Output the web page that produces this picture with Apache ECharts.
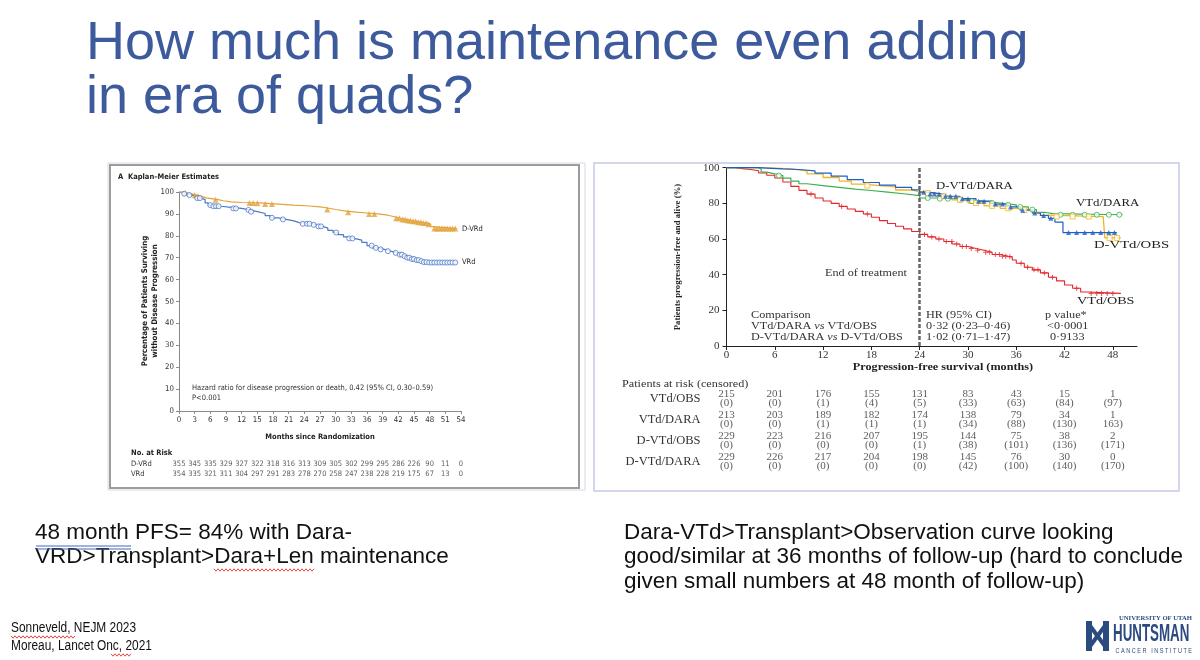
<!DOCTYPE html>
<html><head><meta charset="utf-8">
<script src="https://cdn.jsdelivr.net/npm/echarts@6/dist/echarts.min.js"></script>
<style>html,body{margin:0;padding:0;background:#fff}#c{width:1200px;height:660px}</style>
</head><body><div id="c"></div>
<script>
// ---------- LEFT PANEL DATA (Sonneveld, NEJM 2023) ----------
const leftMonthTicks = [0,3,6,9,12,15,18,21,24,27,30,33,36,39,42,45,48,51,54];
const dvrdCurve = [[0,100],[0.8,99.5],[1.8,99],[2.6,98.5],[3.5,98],[4.3,97.3],[5.2,96.5],[7.5,96],[8.5,95.5],[10,95.2],[12,95],[15.5,94.5],[19,94],[22,93.6],[25,93.2],[27,92.8],[28.2,92],[30,91.3],[32,90.8],[34,90.4],[36,90],[38,89.4],[40,88.6],[41.5,88],[42.5,87.5],[43.5,87],[44.5,86.6],[45.5,86.2],[46.5,85.8],[47.5,85.3],[48.2,84.2],[48.6,83.3],[53.2,83.3]];
const dvrdCensor = [[1.2,99.5],[3,98.5],[3.6,98.2],[7,96.5],[13.5,95],[14.2,95],[15,94.9],[16.5,94.5],[17.8,94.5],[28.4,92],[32.4,90.8],[36.4,90],[37.4,90],[41.6,88],[42.2,88],[42.8,87.5],[43.3,87.5],[43.8,87],[44.3,87],[44.8,86.6],[45.3,86.6],[45.8,86.2],[46.3,86.2],[46.8,85.8],[47.3,85.8],[47.8,85.3],[48.9,83.3],[49.4,83.3],[49.9,83.3],[50.4,83.3],[50.9,83.3],[51.4,83.3],[51.9,83.3],[52.4,83.3],[52.9,83.3]];
const vrdCurve = [[0,100],[0.7,99.2],[1.5,98.6],[2.5,98],[3.3,97.2],[4.3,96.5],[5,95],[5.6,94],[6.5,93.5],[8,93],[10,92.5],[12,91.8],[13.4,91],[15,90.2],[16.5,89.2],[17.5,88.2],[19,87.5],[20.5,86.8],[22,86],[23,85.5],[25.5,85],[26.5,84.3],[27.5,83.5],[28.5,82.5],[29.5,81.5],[30.5,80.5],[31.5,79.5],[32.2,78.8],[33.5,78],[35,77],[36,75.5],[37,74.5],[38,73.8],[39.3,73],[40.5,72.2],[41.8,71.4],[42.8,70.7],[43.6,70],[44.4,69.4],[45.2,68.9],[46,68.4],[46.8,68],[47.4,67.8],[53.2,67.8]];
const vrdCensor = [[1,99.2],[2,98.6],[3.5,97.2],[4,97.2],[6,94],[6.6,93.5],[7.1,93.5],[7.6,93.5],[10.4,92.5],[10.9,92.5],[13.3,91.8],[13.8,91],[17.8,88.2],[19.9,87.5],[23.7,85.5],[24.5,85.5],[25,85.5],[25.8,85],[26.7,84.3],[27.2,84.3],[30.1,81.5],[32.6,78.8],[33.2,78.8],[36.9,75.5],[37.7,74.5],[38.6,73.8],[40,73],[41.5,72.2],[42.3,71.4],[42.7,71.4],[43.2,70.7],[43.7,70],[44.1,70],[44.6,69.4],[45,69.4],[45.5,68.9],[45.9,68.9],[46.4,68.4],[46.9,68],[47.4,68],[47.9,67.8],[48.4,67.8],[48.9,67.8],[49.4,67.8],[49.9,67.8],[50.4,67.8],[50.9,67.8],[51.4,67.8],[51.9,67.8],[52.4,67.8],[52.9,67.8]];
const leftRiskGroups = ['D-VRd','VRd'];
const riskDVRd = [355,345,335,329,327,322,318,316,313,309,305,302,299,295,286,226,90,11,0];
const riskVRd  = [354,335,321,311,304,297,291,283,278,270,258,247,238,228,219,175,67,13,0];

// ---------- RIGHT PANEL DATA (Moreau, Lancet Oncol 2021) ----------
const rightMonthTicks = [0,6,12,18,24,30,36,42,48];
const vtdObsCurve = [[0,100],[1,99.5],[2,99],[3,98.3],[4,97],[5,95.8],[6,94.2],[7,92],[8,89.5],[9,87.3],[10,85.2],[11,83],[12,81.3],[13,80],[14,78.3],[15,76.8],[16,75.5],[17,74],[18,72.2],[19,70.3],[20,68.7],[21,67.2],[22,65.7],[23,64.2],[24,62.6],[25,61.2],[26,60],[27,58.6],[28,57.2],[29,55.8],[30,54.7],[31,53.7],[32,52.6],[33,51.3],[34,50.3],[35,50],[35.5,48.2],[36,46.4],[37,44.2],[38,42.7],[39,41],[40,38.6],[41,36.5],[42,34.2],[43,32.4],[44,30.3],[44.8,29.5],[49,29.5]];
const vtdObsCensor = [[10.5,85.2],[14.3,78.3],[17.5,74],[24.6,62.6],[25.5,61.2],[26.4,60],[27.3,58.6],[28,58.6],[28.6,57.2],[29.3,55.8],[29.8,55.8],[30.4,54.7],[31.2,53.7],[32.2,52.6],[32.7,52.6],[33.4,51.3],[33.9,51.3],[34.3,50.3],[34.7,50.3],[35.2,50],[36.6,46.4],[37.4,44.2],[38.2,42.7],[38.7,42.7],[39.5,41],[40.5,38.6],[43.5,32.4],[45.3,29.5],[46,29.5],[46.6,29.5],[47.3,29.5],[48,29.5]];
const vtdDaraCurve = [[0,100],[3.8,99.5],[4.3,97.5],[5,96.5],[6,95.6],[7,94.2],[8,92.5],[9,91],[10,90],[12,89],[14,88],[16,87.2],[18,86.3],[20,85.4],[22,84.3],[24,83],[26,82.6],[28,82],[30,81.2],[32,80.2],[34,79.2],[36,78],[37.5,76.5],[38.5,75],[39.5,74.2],[40.5,73.6],[49.2,73.6]];
const vtdDaraCensor = [[6.5,95.6],[25,83],[26.5,82.6],[27.5,82.6],[29,82],[30.5,81.2],[33,80.2],[35,79.2],[36.5,78],[38,76.5],[41.5,73.6],[43,73.6],[44.5,73.6],[46,73.6],[47.5,73.6],[48.8,73.6]];
const dvtdObsCurve = [[0,100],[3.8,99.8],[6,99.3],[8,98.2],[10,96.5],[12,94.5],[14,92.5],[15.5,90.8],[17,90],[19,89.2],[21,87.5],[23,86.5],[24,85.8],[26,84],[28,82],[30,80.2],[32,78.6],[34,77.2],[36,76.2],[38,74.6],[39,73.4],[40,72.6],[46.8,72.6],[47,60.6],[49,60.6]];
const dvtdObsCensor = [[17.5,90],[25,85.8],[27,84],[29,82],[31,80.2],[33,78.6],[35,77.2],[37,76.2],[41,72.6],[43,72.6],[45,72.6],[47.6,60.6],[48.5,60.6]];
const dvtdDaraCurve = [[0,100],[4,99.8],[5,99.3],[7,99],[9,98.2],[11,97],[13,95.3],[15,93.3],[17,91.7],[19,90.2],[21,89],[23,87.6],[24,86.3],[25,85.2],[27,84],[29,82.6],[31,81.2],[33,79.6],[35,78],[36.5,76.2],[38,74.6],[39,73.2],[40,71.6],[40.8,69.5],[41.8,63.6],[48.5,63.6]];
const dvtdDaraCensor = [[24.5,86.3],[25.3,85.2],[25.8,85.2],[26.4,85.2],[27.2,84],[27.8,84],[28.5,84],[29.3,82.6],[30,82.6],[31.3,81.2],[32,81.2],[33.4,79.6],[34.3,79.6],[35.3,78],[36.8,76.2],[38.3,74.6],[39.4,73.2],[40.3,71.6],[42.5,63.6],[43.5,63.6],[44.5,63.6],[45.5,63.6],[46.5,63.6],[47.5,63.6],[48.2,63.6]];
const rightRiskGroups = ['VTd/OBS','VTd/DARA','D-VTd/OBS','D-VTd/DARA'];
const riskVTdOBS = [215,201,176,155,131,83,43,15,1];
const censVTdOBS = ['(0)','(0)','(1)','(4)','(5)','(33)','(63)','(84)','(97)'];
const riskVTdDARA = [213,203,189,182,174,138,79,34,1];
const censVTdDARA = ['(0)','(0)','(1)','(1)','(1)','(34)','(88)','(130)','163)'];
const riskDVTdOBS = [229,223,216,207,195,144,75,38,2];
const censDVTdOBS = ['(0)','(0)','(0)','(0)','(1)','(38)','(101)','(136)','(171)'];
const riskDVTdDARA = [229,226,217,204,198,145,76,30,0];
const censDVTdDARA = ['(0)','(0)','(0)','(0)','(0)','(42)','(100)','(140)','(170)'];

// ---------- BUILD ----------
const NARROW = "'Liberation Sans Narrow','DejaVu Sans Condensed','Liberation Sans',sans-serif";
const SERIF = "'Liberation Serif','DejaVu Serif',serif";
const SANS = "'Liberation Sans',Arial,sans-serif";
const C_OR = '#e3a23b', C_BL = '#4d79c7';
const C_RED = '#e5262b', C_GRN = '#3cb04f', C_YEL = '#f1b61e', C_DBL = '#1f5fc8';

const leftRiskData = [];
leftMonthTicks.forEach((m,i)=>{
  leftRiskData.push({value:[m,0], name:String(riskDVRd[i])});
  leftRiskData.push({value:[m,1], name:String(riskVRd[i])});
});
const rightRiskData = [];
const rr = [[riskVTdOBS,censVTdOBS],[riskVTdDARA,censVTdDARA],[riskDVTdOBS,censDVTdOBS],[riskDVTdDARA,censDVTdDARA]];
rightMonthTicks.forEach((m,i)=>{
  rr.forEach((p,r)=>{ rightRiskData.push({value:[m,r], name:p[0][i]+'\n'+p[1][i]}); });
});

function T(x,y,text,font,fill,align,sx){
  const o = {type:'text',x:x,y:y,style:{text:text,font:font,fill:fill||'#222',textAlign:align||'left',textVerticalAlign:'middle'}};
  if (sx) o.scaleX = sx;
  return o;
}
function wavy(x1,x2,y){
  const pts=[]; let k=0;
  for(let x=x1;x<=x2;x+=2){ pts.push([x, y + (k%2? 1.2 : -1.2)]); k++; }
  return {type:'polyline',shape:{points:pts},style:{stroke:'#e0342c',lineWidth:0.9,fill:'none'}};
}
const SX = 1.22; // the Lancet figure is stretched horizontally on the slide
const crossPath = 'path://M4,0H6V4H10V6H6V10H4V6H0V4H4Z';

const option = {
  animation:false,
  backgroundColor:'#fff',
  grid:[
    {left:179, top:192, width:282, height:219},
    {left:179, top:459, width:282, height:20},
    {left:726.5, top:167.7, width:410.5, height:178.3},
    {left:726.5, top:388, width:410.5, height:84}
  ],
  xAxis:[
    {gridIndex:0,type:'value',min:0,max:54,interval:3,
     axisLine:{lineStyle:{color:'#8a8a8a',width:1}},axisTick:{length:3,lineStyle:{color:'#8a8a8a'}},
     splitLine:{show:false},axisLabel:{fontFamily:NARROW,fontSize:7.8,color:'#333',margin:5}},
    {gridIndex:1,type:'value',min:0,max:54,show:false},
    {gridIndex:2,type:'value',min:0,max:51,interval:6,
     axisLine:{lineStyle:{color:'#222',width:1}},axisTick:{length:4,lineStyle:{color:'#222'}},
     splitLine:{show:false},
     axisLabel:{fontFamily:SERIF,fontSize:11,color:'#333',margin:4,formatter:v=>v%6===0?String(v):'',showMaxLabel:false}},
    {gridIndex:3,type:'value',min:0,max:51,show:false}
  ],
  yAxis:[
    {gridIndex:0,type:'value',min:0,max:100,interval:10,
     axisLine:{show:true,lineStyle:{color:'#8a8a8a',width:1}},axisTick:{show:true,length:3,lineStyle:{color:'#8a8a8a'}},
     splitLine:{show:false},axisLabel:{fontFamily:NARROW,fontSize:7.8,color:'#333',margin:5}},
    {gridIndex:1,type:'category',data:leftRiskGroups,inverse:true,
     axisLine:{show:false},axisTick:{show:false},
     axisLabel:{interval:0,fontFamily:NARROW,fontSize:7.5,color:'#333',align:'left',margin:48}},
    {gridIndex:2,type:'value',min:0,max:100,interval:20,
     axisLine:{show:true,lineStyle:{color:'#222',width:1}},axisTick:{show:true,length:4,lineStyle:{color:'#222'}},
     splitLine:{show:false},axisLabel:{fontFamily:SERIF,fontSize:11,color:'#333',margin:7}},
    {gridIndex:3,type:'category',data:rightRiskGroups,inverse:true,
     axisLine:{show:false},axisTick:{show:false},
     axisLabel:{interval:0,fontFamily:SERIF,fontSize:12.5,color:'#333',margin:26}}
  ],
  series:[
    {type:'line',xAxisIndex:0,yAxisIndex:0,step:'end',data:dvrdCurve,showSymbol:false,lineStyle:{color:C_OR,width:1.2},z:3},
    {type:'line',xAxisIndex:0,yAxisIndex:0,step:'end',data:vrdCurve,showSymbol:false,lineStyle:{color:C_BL,width:1.2},z:3},
    {type:'scatter',xAxisIndex:0,yAxisIndex:0,data:dvrdCensor,symbol:'triangle',symbolSize:6,itemStyle:{color:C_OR},z:4},
    {type:'scatter',xAxisIndex:0,yAxisIndex:0,data:vrdCensor,symbol:'circle',symbolSize:5,itemStyle:{color:'#fff',borderColor:C_BL,borderWidth:1},z:4},
    {type:'scatter',xAxisIndex:1,yAxisIndex:1,data:leftRiskData,symbolSize:0,
     label:{show:true,position:'inside',formatter:p=>p.name,fontFamily:NARROW,fontSize:7.5,color:'#333'}},

    {type:'line',xAxisIndex:2,yAxisIndex:2,step:'end',data:vtdObsCurve,showSymbol:false,lineStyle:{color:C_RED,width:1.1},z:3,
     markLine:{silent:true,symbol:'none',label:{show:false},lineStyle:{color:'#666',type:[4,2],width:2.5},data:[{xAxis:24}]}},
    {type:'line',xAxisIndex:2,yAxisIndex:2,step:'end',data:vtdDaraCurve,showSymbol:false,lineStyle:{color:C_GRN,width:1.2},z:3},
    {type:'line',xAxisIndex:2,yAxisIndex:2,step:'end',data:dvtdObsCurve,showSymbol:false,lineStyle:{color:C_YEL,width:1.3},z:3},
    {type:'line',xAxisIndex:2,yAxisIndex:2,step:'end',data:dvtdDaraCurve,showSymbol:false,lineStyle:{color:C_DBL,width:1.2},z:4},
    {type:'scatter',xAxisIndex:2,yAxisIndex:2,data:vtdObsCensor,symbol:crossPath,symbolSize:5,itemStyle:{color:C_RED},z:4},
    {type:'scatter',xAxisIndex:2,yAxisIndex:2,data:vtdDaraCensor,symbol:'circle',symbolSize:5,itemStyle:{color:'#fff',borderColor:C_GRN,borderWidth:1},z:4},
    {type:'scatter',xAxisIndex:2,yAxisIndex:2,data:dvtdObsCensor,symbol:'rect',symbolSize:5,itemStyle:{color:'#fff',borderColor:C_YEL,borderWidth:1},z:4},
    {type:'scatter',xAxisIndex:2,yAxisIndex:2,data:dvtdDaraCensor,symbol:'triangle',symbolSize:5,itemStyle:{color:C_DBL},z:5},
    {type:'scatter',xAxisIndex:3,yAxisIndex:3,data:rightRiskData,symbolSize:0,
     label:{show:true,position:'inside',formatter:p=>p.name,fontFamily:SERIF,fontSize:11,lineHeight:9,color:'#333'}}
  ],
  graphic:[
    // title
    T(86,44,'How much is maintenance even adding','54px '+SANS,'#3c5a9c'),
    T(86,98,'in era of quads?','54px '+SANS,'#3c5a9c'),
    // left panel frame
    {type:'rect',shape:{x:108,y:163,width:477,height:327},style:{fill:'none',stroke:'#d6d8e8',lineWidth:1}},
    {type:'rect',shape:{x:110,y:165,width:469,height:323},style:{fill:'none',stroke:'#9c9c9c',lineWidth:2}},
    // right panel frame
    {type:'rect',shape:{x:594,y:163,width:585,height:328},style:{fill:'none',stroke:'#c6cae6',lineWidth:1.5}},
    // left panel texts
    T(118,177,'A  Kaplan–Meier Estimates','bold 7.5px '+NARROW,'#222'),
    {type:'text',x:150,y:301,rotation:Math.PI/2,style:{text:'Percentage of Patients Surviving\nwithout Disease Progression',font:'bold 7.8px '+NARROW,fill:'#222',textAlign:'center',textVerticalAlign:'middle',lineHeight:10}},
    T(192,388,'Hazard ratio for disease progression or death, 0.42 (95% CI, 0.30–0.59)','7.5px '+NARROW,'#333'),
    T(192,398,'P<0.001','7.5px '+NARROW,'#333'),
    T(320,437,'Months since Randomization','bold 7.5px '+NARROW,'#222','center'),
    T(462,229,'D-VRd','7.5px '+NARROW,'#222'),
    T(462,262,'VRd','7.5px '+NARROW,'#222'),
    T(131,453,'No. at Risk','bold 7.5px '+NARROW,'#222'),
    // right panel texts
    {type:'text',x:678,y:257,rotation:Math.PI/2,style:{text:'Patients progression-free and alive (%)',font:'bold 8.8px '+SERIF,fill:'#222',textAlign:'center',textVerticalAlign:'middle'}},
    T(943,367,'Progression-free survival (months)','bold 10px '+SERIF,'#222','center',SX),
    T(936,186,'D-VTd/DARA','10.5px '+SERIF,'#222','left',SX),
    T(1076,203,'VTd/DARA','10.5px '+SERIF,'#222','left',SX),
    T(1094,245,'D-VTd/OBS','10.5px '+SERIF,'#222','left',1.4),
    T(1077,301,'VTd/OBS','10.5px '+SERIF,'#222','left',1.35),
    T(825,273,'End of treatment','10px '+SERIF,'#333','left',SX),
    T(751,315,'Comparison','10px '+SERIF,'#333','left',SX),
    {type:'text',x:751,y:326,scaleX:SX,style:{rich:{a:{font:'10px '+SERIF,fill:'#333'},i:{font:'italic 10px '+SERIF,fill:'#333'}},text:'{a|VTd/DARA }{i|vs}{a| VTd/OBS}',textVerticalAlign:'middle'}},
    {type:'text',x:751,y:337,scaleX:SX,style:{rich:{a:{font:'10px '+SERIF,fill:'#333'},i:{font:'italic 10px '+SERIF,fill:'#333'}},text:'{a|D-VTd/DARA }{i|vs}{a| D-VTd/OBS}',textVerticalAlign:'middle'}},
    T(926,315,'HR (95% CI)','10px '+SERIF,'#333','left',SX),
    T(926,326,'0·32 (0·23–0·46)','10px '+SERIF,'#333','left',SX),
    T(926,337,'1·02 (0·71–1·47)','10px '+SERIF,'#333','left',SX),
    T(1045,315,'p value*','10px '+SERIF,'#333','left',SX),
    T(1047,326,'<0·0001','10px '+SERIF,'#333','left',SX),
    T(1050,337,'0·9133','10px '+SERIF,'#333','left',SX),
    T(622,384,'Patients at risk (censored)','10px '+SERIF,'#333','left',SX),
    // bottom texts
    T(35,533,'48 month PFS= 84% with Dara-','22.5px '+SANS,'#111'),
    T(35,557,'VRD>Transplant>Dara+Len maintenance','22.5px '+SANS,'#111'),
    T(624,533,'Dara-VTd>Transplant>Observation curve looking','22.5px '+SANS,'#111'),
    T(624,557,'good/similar at 36 months of follow-up (hard to conclude','22.5px '+SANS,'#111'),
    T(624,582,'given small numbers at 48 month of follow-up)','22.5px '+SANS,'#111'),
    {type:'line',shape:{x1:36,y1:546,x2:131,y2:546},style:{stroke:'#4466bb',lineWidth:1}},
    {type:'line',shape:{x1:36,y1:549,x2:131,y2:549},style:{stroke:'#4466bb',lineWidth:1}},
    wavy(214,314,570),
    T(11,628,'Sonneveld, NEJM 2023','14px '+SANS,'#111','left',0.85),
    T(11,646,'Moreau, Lancet Onc, 2021','14px '+SANS,'#111','left',0.85),
    wavy(11,76,637),
    wavy(111,131,655),
    // logo
    T(1192,618,'UNIVERSITY OF UTAH','bold 7px '+SERIF,'#2b4a80','right',0.95),
    T(1113,635,'HUNTSMAN','bold 23px '+SANS,'#2b4a80','left',0.58),
    T(1192,651,'C A N C E R   I N S T I T U T E','6.5px '+SANS,'#2b4a80','right',0.85),
    {type:'rect',shape:{x:1086,y:621,width:6,height:30},style:{fill:'#2b4a80'}},
    {type:'rect',shape:{x:1103,y:621,width:6,height:30},style:{fill:'#2b4a80'}},
    {type:'polygon',shape:{points:[[1092,625],[1103,640],[1103,647],[1092,632]]},style:{fill:'#2b4a80'}},
    {type:'polygon',shape:{points:[[1103,625],[1092,640],[1092,647],[1103,632]]},style:{fill:'#2b4a80'}}
  ]
};
const chart = echarts.init(document.getElementById('c'),null,{renderer:'canvas'});
chart.setOption(option);
</script></body></html>
